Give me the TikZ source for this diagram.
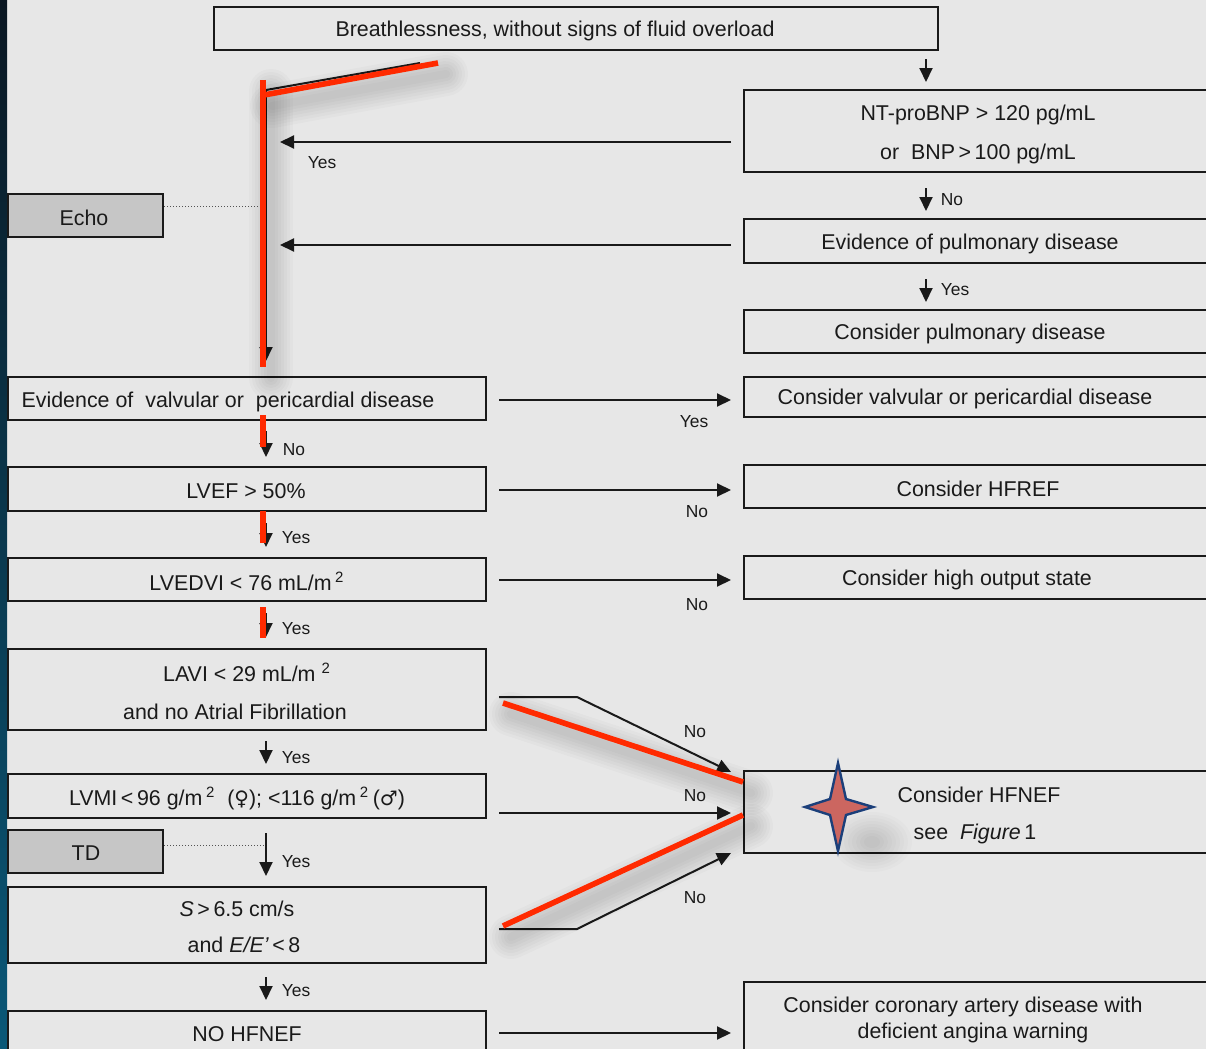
\documentclass[tikz,border=0pt]{standalone}
\usepackage{fontspec}
\setmainfont{Liberation Sans}
\newfontfamily\symf{DejaVu Sans}
\usetikzlibrary{arrows.meta,calc,fit}
\definecolor{bg}{HTML}{E7E7E7}
\definecolor{ink}{HTML}{1A1A1A}
\definecolor{tagfill}{HTML}{C6C6C6}
\definecolor{mark}{HTML}{FF2A00}
\definecolor{starfill}{HTML}{CC6660}
\definecolor{staredge}{HTML}{1B3F7A}
\definecolor{stripTop}{HTML}{0A1722}
\definecolor{stripBot}{HTML}{0A5878}
\tikzset{
  box/.style={draw=ink, line width=1pt, inner sep=0pt, fit={#1}},
  tag/.style={box={#1}, fill=tagfill},
  txt/.style={font=\fontsize{10.7}{13}\selectfont, text=ink, inner sep=0pt, yshift=-0.8pt},
  lbl/.style={font=\fontsize{8.7}{10}\selectfont, text=ink, inner sep=0pt, yshift=-0.5pt},
  arr/.style={draw=ink, line width=1pt, -{Triangle[length=7pt,width=6.5pt]}},
  plain/.style={draw=ink, line width=1pt},
  dots/.style={draw=ink!75, line width=0.5pt, densely dotted},
  redline/.style={draw=mark, line width=2.8pt},
}
% soft grey shadow under an open stroke
\newcommand\softshade[1]{%
  \foreach \w in {22pt,19pt,16pt,13pt,10pt,7pt,4pt}{%
    \draw[line width=\w, black, opacity=0.018, line cap=round, shift={(8,11)}] #1;}}
\newcommand\sq{\textsuperscript{2}}
\begin{document}
\begin{tikzpicture}[x=0.5pt, y=-0.5pt]
\useasboundingbox (0,0) rectangle (1206,1049);
\clip (0,0) rectangle (1206,1049);
\fill[bg] (0,0) rectangle (1206,1049);
\shade[top color=stripTop, bottom color=stripBot] (0,0) rectangle (7,1049);

% ---- boxes ----
\node[box={(214,7) (938,50)}] (top) {};
\node[box={(744,90) (1215,172)}] (nt) {};
\node[box={(744,219) (1215,263)}] (pulm) {};
\node[box={(744,310) (1215,353)}] (cpulm) {};
\node[box={(744,377) (1215,417)}] (cvalv) {};
\node[box={(744,465) (1215,508)}] (hfref) {};
\node[box={(744,556) (1215,599)}] (hout) {};
\node[box={(744,771) (1215,853)}] (hfnef) {};
\node[box={(744,982) (1215,1060)}] (cad) {};
\node[box={(8,377) (486,420)}] (valv) {};
\node[box={(8,467) (486,511)}] (lvef) {};
\node[box={(8,558) (486,601)}] (lvedvi) {};
\node[box={(8,649) (486,730)}] (lavi) {};
\node[box={(8,774) (486,818)}] (lvmi) {};
\node[box={(8,887) (486,963)}] (tdi) {};
\node[box={(8,1011) (486,1060)}] (nohf) {};
\node[tag={(8,194) (163,237)}] (echo) {};
\node[tag={(8,830) (163,873)}] (td) {};

% ---- box texts ----
\node[txt] (tTop) at (555,29) {Breathlessness, without signs of fluid overload};
\node[txt] (tNt1) at (978,113) {NT-proBNP > 120 pg/mL};
\node[txt] (tNt2) at (978,152) {or\ \ BNP\,>\,100 pg/mL};
\node[txt] (tPulm) at (970,242) {Evidence of pulmonary disease};
\node[txt] (tCpulm) at (970,332) {Consider pulmonary disease};
\node[txt] (tCvalv) at (965,397) {Consider valvular or pericardial disease};
\node[txt] (tHfref) at (978,487) {Consider HFREF};
\node[txt] (tHout) at (967,578) {Consider high output state};
\node[txt] (tHf1) at (979,793) {Consider HFNEF};
\node[txt] (tHf2) at (975,832) {see\ \ \textit{Figure}\,1};
\node[txt] (tCad1) at (963,1005) {Consider coronary artery disease with};
\node[txt] (tCad2) at (973,1031) {deficient angina warning};
\node[txt] (tValv) at (228,400) {Evidence of\ \ valvular or\ \ pericardial disease};
\node[txt] (tLvef) at (246,490) {LVEF > 50\%};
\node[txt] (tLvedvi) at (247,580) {LVEDVI < 76 mL/m\,\sq};
\node[txt] (tLavi1) at (247,671) {LAVI < 29 mL/m \sq};
\node[txt] (tLavi2) at (235,710) {and no Atrial Fibrillation};
\node[txt] (tLvmi) at (237,797) {LVMI\,<\,96 g/m\,\sq\ \ ({\symf\fontsize{10}{12}\selectfont ♀}); <116 g/m\,\sq\,({\symf\fontsize{10}{12}\selectfont ♂})};
\node[txt] (tS1) at (237,907) {\textit{S}\,>\,6.5 cm/s};
\node[txt] (tS2) at (244,943) {and \textit{E/E’}\,<\,8};
\node[txt] (tNohf) at (247,1033) {NO HFNEF};
\node[txt] (tEcho) at (84,216) {Echo};
\node[txt] (tTd) at (86,852) {TD};

% ---- connectors ----
\coordinate (spineTop) at (266,90);
\coordinate (bendA) at (577,697);
\coordinate (bendB) at (577,929);

\draw[plain] (spineTop) -- (420,63);
\draw[arr, shorten >=7.5pt] (spineTop) -- (spineTop |- valv.north);
\draw[arr, shorten <=6pt, shorten >=7pt] (nt.west |- 0,142) -- (spineTop |- 0,142);
\draw[arr, shorten <=6pt, shorten >=7pt] (pulm.west |- 0,245) -- (spineTop |- 0,245);
\draw[dots] (echo.east |- 0,206) -- (spineTop |- 0,206);
\draw[dots] (td.east |- 0,845) -- (spineTop |- 0,845);

\draw[arr, shorten <=4pt, shorten >=3.5pt] (926,0 |- top.south) -- (926,0 |- nt.north);
\draw[arr, shorten <=7.5pt, shorten >=3.5pt] (926,0 |- nt.south) -- (926,0 |- pulm.north);
\draw[arr, shorten <=7.5pt, shorten >=3.5pt] (926,0 |- pulm.south) -- (926,0 |- cpulm.north);

\draw[arr, shorten <=5pt, shorten >=4.5pt] (spineTop |- valv.south) -- (spineTop |- lvef.north);
\draw[arr, shorten <=5.5pt, shorten >=5pt] (spineTop |- lvef.south) -- (spineTop |- lvedvi.north);
\draw[arr, shorten <=5.5pt, shorten >=5.5pt] (spineTop |- lvedvi.south) -- (spineTop |- lavi.north);
\draw[arr, shorten <=5pt, shorten >=4.5pt] (spineTop |- lavi.south) -- (spineTop |- lvmi.north);
\draw[arr, shorten <=7pt, shorten >=5pt] (spineTop |- lvmi.south) -- (spineTop |- tdi.north);
\draw[arr, shorten <=6.5pt, shorten >=5pt] (spineTop |- tdi.south) -- (spineTop |- nohf.north);

\draw[arr, shorten <=6pt, shorten >=6pt] (valv.east |- 0,400) -- (cvalv.west |- 0,400);
\draw[arr, shorten <=6pt, shorten >=6pt] (lvef.east |- 0,490) -- (hfref.west |- 0,490);
\draw[arr, shorten <=6pt, shorten >=6pt] (lvedvi.east |- 0,580) -- (hout.west |- 0,580);
\draw[arr, shorten <=6pt, shorten >=6pt] (lvmi.east |- 0,813) -- (hfnef.west |- 0,813);
\draw[arr, shorten <=6pt, shorten >=6pt] (nohf.east |- 0,1033) -- (cad.west |- 0,1033);
\draw[arr, shorten <=6pt] (lavi.east |- 0,697) -- (bendA) -- ($(hfnef.north west)+(-12,2)$);
\draw[arr, shorten <=6pt] (tdi.east |- 0,929) -- (bendB) -- ($(hfnef.south west)+(-12,-1)$);

% ---- connector labels ----
\node[lbl] (lY1) at (322,162) {Yes};
\node[lbl] (lN1) at (952,199) {No};
\node[lbl] (lY2) at (955,289) {Yes};
\node[lbl] (lY3) at (694,421) {Yes};
\node[lbl] (lN2) at (294,449) {No};
\node[lbl] (lN3) at (697,511) {No};
\node[lbl] (lY4) at (296,537) {Yes};
\node[lbl] (lN4) at (697,604) {No};
\node[lbl] (lY5) at (296,628) {Yes};
\node[lbl] (lN5) at (695,731) {No};
\node[lbl] (lY6) at (296,757) {Yes};
\node[lbl] (lN6) at (695,795) {No};
\node[lbl] (lY7) at (296,861) {Yes};
\node[lbl] (lN7) at (695,897) {No};
\node[lbl] (lY8) at (296,990) {Yes};

% ---- star marker with a soft shadow ----
\foreach \r in {40,36,32,28,24,20,16,12,8}{%
  \fill[black, opacity=0.016] (872,842) ellipse ({\r} and {0.75*\r});}
\filldraw[fill=starfill, draw=staredge, line width=1.2pt]
  (838,763) -- (846,799) -- (873,807) -- (846,815) -- (838,851) -- (830,815)
  -- (805,807) -- (830,799) -- cycle;

% ---- red emphasis strokes ----
\softshade{(263,80) -- (263,367)}
\softshade{(264,95) -- (438,63)}
\softshade{(503,703) -- (743,782)}
\softshade{(503,926) -- (743,815)}
\draw[redline] (263,80) -- (263,367);
\draw[redline] (264,95) -- (438,63);
\draw[redline] (263,415) -- (263,447);
\draw[redline] (263,511) -- (263,543);
\draw[redline] (263,607) -- (263,638);
\draw[redline] (503,703) -- (743,782);
\draw[redline] (503,926) -- (743,815);
\end{tikzpicture}
\end{document}
